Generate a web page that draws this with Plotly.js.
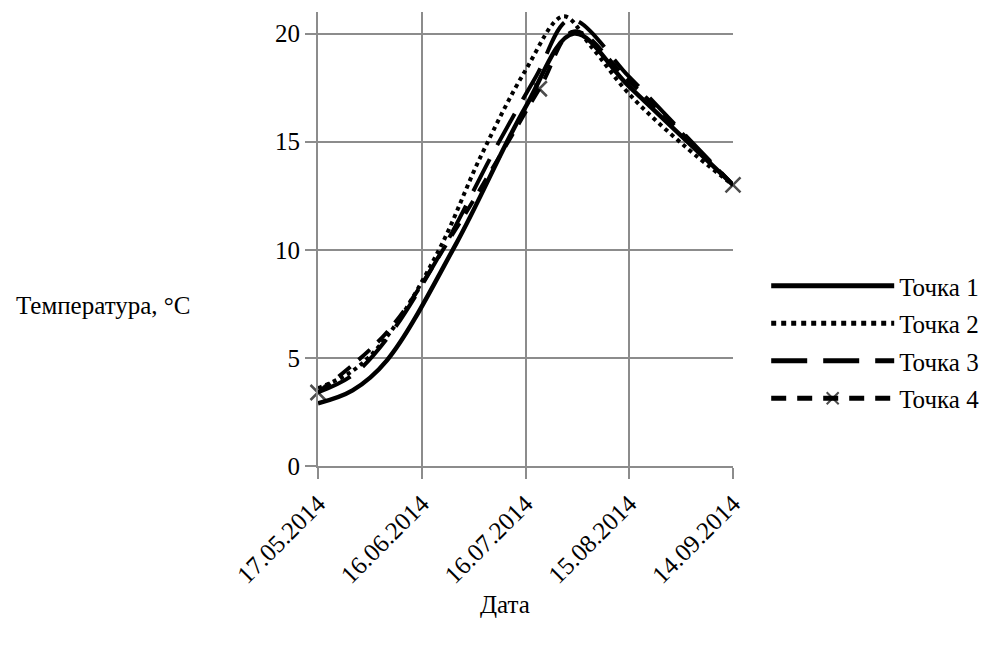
<!DOCTYPE html>
<html>
<head>
<meta charset="utf-8">
<script src="https://cdn.plot.ly/plotly-3.0.1.min.js"></script>
<style>html,body{margin:0;padding:0;background:#fff;}#chart{width:987px;height:648px;}</style>
</head>
<body>
<div id="chart"></div>
<script>
// Series data
var seriesNames = ["Точка 1", "Точка 2", "Точка 3", "Точка 4"];

var dates1 = ["2014-05-17","2014-05-27","2014-06-06","2014-06-26","2014-07-16","2014-07-30","2014-08-15","2014-09-14"];
var temps1 = [2.9, 3.5, 4.9, 10.3, 16.6, 20.0, 17.55, 13.0];

var dates2 = ["2014-05-17","2014-05-27","2014-06-06","2014-06-21","2014-07-03","2014-07-16","2014-07-27","2014-08-04","2014-08-15","2014-08-31","2014-09-14"];
var temps2 = [3.6, 4.4, 6.0, 10.0, 14.3, 18.3, 20.8, 19.4, 17.2, 14.8, 13.0];

var dates3 = ["2014-05-17","2014-05-27","2014-06-06","2014-06-22","2014-07-07","2014-07-19","2014-07-29","2014-08-15","2014-08-30","2014-09-14"];
var temps3 = [3.4, 4.2, 5.9, 10.0, 14.6, 18.0, 20.65, 18.0, 15.5, 13.0];

var dates4 = ["2014-05-17","2014-06-06","2014-06-26","2014-07-20","2014-07-30","2014-08-15","2014-09-14"];
var temps4 = [3.4, 6.2, 11.0, 17.45, 20.1, 17.8, 13.0];

var xTickStart = "2014-05-17";
var xRange = ["2014-05-17", "2014-09-14"];
var yTicks = [0, 5, 10, 15, 20];

var FONT = "Liberation Serif, Times New Roman, serif";
var GRID = "#8c8c8c";
var FS = 25;

var traces = [
  {x: dates1, y: temps1, name: seriesNames[0], legendgroup: "g1", type: "scatter", mode: "lines",
   line: {color: "#000", width: 4.5, shape: "spline", smoothing: 1}},
  {x: dates2, y: temps2, name: seriesNames[1], legendgroup: "g2", type: "scatter", mode: "lines",
   line: {color: "#000", width: 4, dash: "dot", shape: "spline", smoothing: 1}},
  {x: dates3, y: temps3, name: seriesNames[2], legendgroup: "g3", type: "scatter", mode: "lines",
   line: {color: "#000", width: 4, dash: "36px,16px", shape: "spline", smoothing: 1}},
  {x: dates4, y: temps4, name: seriesNames[3], legendgroup: "g4", type: "scatter", mode: "lines+markers",
   cliponaxis: false,
   line: {color: "#000", width: 4, dash: "15px,11px", shape: "spline", smoothing: 1},
   marker: {symbol: "x-thin-open", size: [15, 0, 0, 15, 0, 0, 15], color: "#000", line: {color: "#000", width: 2.5}}}
];

var layout = {
  width: 987, height: 648,
  margin: {l: 318, r: 254, t: 12, b: 182, autoexpand: false},
  paper_bgcolor: "#fff", plot_bgcolor: "#fff",
  font: {family: FONT, size: FS, color: "#000"},
  showlegend: true,
  legend: {x: 1.08, xanchor: "left", y: 0.447, yanchor: "top",
           font: {family: FONT, size: FS, color: "#000"},
           itemwidth: 123, itemsizing: "constant",
           traceorder: "grouped", tracegroupgap: 2, bgcolor: "rgba(0,0,0,0)"},
  xaxis: {type: "date", range: xRange, tick0: xTickStart, dtick: 30 * 86400000,
          tickformat: "%d.%m.%Y", tickangle: -45,
          showgrid: true, gridcolor: GRID, gridwidth: 2,
          showline: true, linecolor: GRID, linewidth: 2,
          ticks: "outside", ticklen: 11, tickwidth: 2, tickcolor: GRID,
          tickfont: {family: FONT, size: FS, color: "#000"}, zeroline: false},
  yaxis: {range: [0, 21], tickvals: yTicks,
          showgrid: true, gridcolor: GRID, gridwidth: 2,
          showline: true, linecolor: GRID, linewidth: 2,
          ticks: "outside", ticklen: 11, tickwidth: 2, tickcolor: GRID,
          tickfont: {family: FONT, size: FS, color: "#000"}, zeroline: false},
  annotations: [
    {text: "Температура, °C", xref: "paper", yref: "paper", x: -0.518, y: 0.3546,
     xanchor: "center", yanchor: "middle", showarrow: false,
     font: {family: FONT, size: FS, color: "#000"}},
    {text: "Дата", xref: "paper", yref: "paper", x: 0.4506, y: -0.306,
     xanchor: "center", yanchor: "middle", showarrow: false,
     font: {family: FONT, size: FS, color: "#000"}}
  ]
};

Plotly.newPlot("chart", traces, layout, {displayModeBar: false, staticPlot: true});
</script>
</body>
</html>
